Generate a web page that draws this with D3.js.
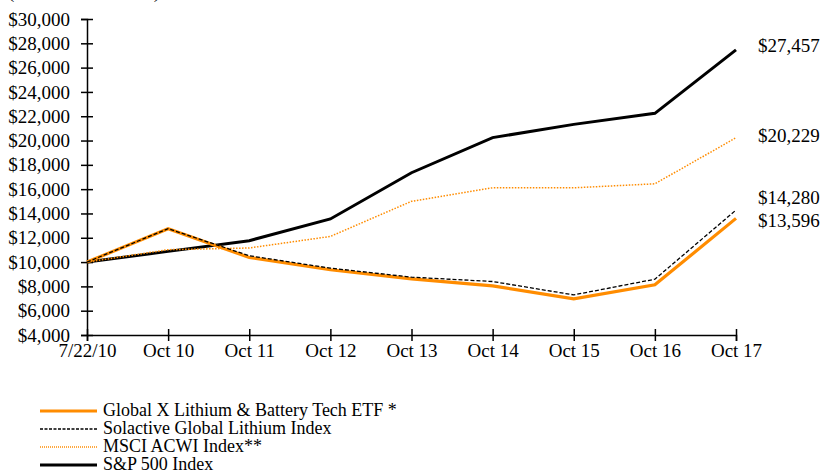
<!DOCTYPE html>
<html>
<head>
  <title>Lithium ETF growth of $10,000</title>
  <script src="https://d3js.org/d3.v7.min.js"></script>
  <style>
    body { margin: 0; background: #fff; }
    svg text { font-family: "Liberation Serif", "Times New Roman", serif; fill: #000; }
  </style>
</head>
<body>
  <div id="chart"></div>

  <script>
    const periods = ["7/22/10", "Oct 10", "Oct 11", "Oct 12", "Oct 13", "Oct 14", "Oct 15", "Oct 16", "Oct 17"];
    const etfValues = [10000, 12750, 10380, 9370, 8620, 8045, 6970, 8130, 13596];
    const solactiveValues = [10000, 12750, 10520, 9500, 8760, 8400, 7300, 8590, 14280];
    const msciValues = [10000, 11020, 11160, 12110, 15000, 16110, 16110, 16440, 20229];
    const spValues = [10000, 10880, 11760, 13550, 17350, 20240, 21330, 22240, 27457];
    const seriesNames = [
      "Global X Lithium & Battery Tech ETF *",
      "Solactive Global Lithium Index",
      "MSCI ACWI Index**",
      "S&P 500 Index"
    ];
    const yTicks = [4000, 6000, 8000, 10000, 12000, 14000, 16000, 18000, 20000, 22000, 24000, 26000, 28000, 30000];

    const width = 820;
    const height = 475;
    const margin = { top: 19, right: 84, bottom: 140, left: 87 };

    const orange = "#ff8c00";
    const styles = [
      { color: orange, width: 3.2, dash: null },
      { color: "#000", width: 1.3, dash: "4,2" },
      { color: orange, width: 1.5, dash: "1.5,1.5" },
      { color: "#000", width: 3, dash: null }
    ];
    const series = [etfValues, solactiveValues, msciValues, spValues];
    // draw order: index lines behind, ETF on top, dashed solactive over ETF
    const drawOrder = [3, 2, 0, 1];
    // vertical nudges for end labels so they don't collide
    const labelDy = [3, -12, -2, -4];

    const svg = d3.select("#chart")
      .append("svg")
      .attr("width", width)
      .attr("height", height);

    const x = d3.scalePoint()
      .domain(periods)
      .range([margin.left, width - margin.right]);

    const y = d3.scaleLinear()
      .domain([4000, 30000])
      .range([height - margin.bottom, margin.top]);

    // clipped subtitle remnant at top
    svg.append("text")
      .attr("x", 8)
      .attr("y", -2.5)
      .style("font-size", "19px")
      .text("(at Net Asset Value)");

    const yAxis = d3.axisLeft(y)
      .tickValues(yTicks)
      .tickSizeOuter(0)
      .tickSize(6)
      .tickPadding(11)
      .tickFormat(d => "$" + d3.format(",")(d));

    const gy = svg.append("g")
      .attr("transform", `translate(${margin.left},0)`)
      .call(yAxis);
    gy.selectAll(".tick line").attr("x1", 6).attr("x2", -6);

    const xAxis = d3.axisBottom(x)
      .tickSizeOuter(0)
      .tickSize(6);

    const gx = svg.append("g")
      .attr("transform", `translate(0,${height - margin.bottom})`)
      .call(xAxis);
    gx.selectAll(".tick line").attr("y1", -6).attr("y2", 6);
    gx.selectAll(".tick text").attr("y", 9);

    [gx, gy].forEach(g => {
      g.select(".domain").attr("stroke", "#000").attr("stroke-width", 1.5);
      g.selectAll(".tick line").attr("stroke", "#000").attr("stroke-width", 1.5);
      g.selectAll(".tick text")
        .style("font-size", "19px")
        .style("font-family", "'Liberation Serif', 'Times New Roman', serif")
        .attr("fill", "#000");
    });

    const line = d3.line()
      .x((d, i) => x(periods[i]))
      .y(d => y(d));

    drawOrder.forEach(k => {
      svg.append("path")
        .datum(series[k])
        .attr("fill", "none")
        .attr("stroke", styles[k].color)
        .attr("stroke-width", styles[k].width)
        .attr("stroke-dasharray", styles[k].dash)
        .attr("d", line);
    });

    // end labels
    series.forEach((vals, k) => {
      const last = vals[vals.length - 1];
      svg.append("text")
        .attr("x", x(periods[periods.length - 1]) + 22)
        .attr("y", y(last) + labelDy[k])
        .attr("dy", "0.32em")
        .style("font-size", "19px")
        .text("$" + d3.format(",")(last));
    });

    // legend
    const legend = svg.append("g");
    seriesNames.forEach((name, k) => {
      const ly = 411 + k * 18;
      legend.append("line")
        .attr("x1", 40).attr("x2", 97)
        .attr("y1", ly).attr("y2", ly)
        .attr("stroke", styles[k].color)
        .attr("stroke-width", k === 1 || k === 2 ? 1.3 : 3)
        .attr("stroke-dasharray", k === 1 ? "3,1.5" : (k === 2 ? "1,1" : null));
      legend.append("text")
        .attr("x", 103)
        .attr("y", ly)
        .attr("dy", "0.3em")
        .style("font-size", "18px")
        .text(name);
    });
  </script>
</body>
</html>
